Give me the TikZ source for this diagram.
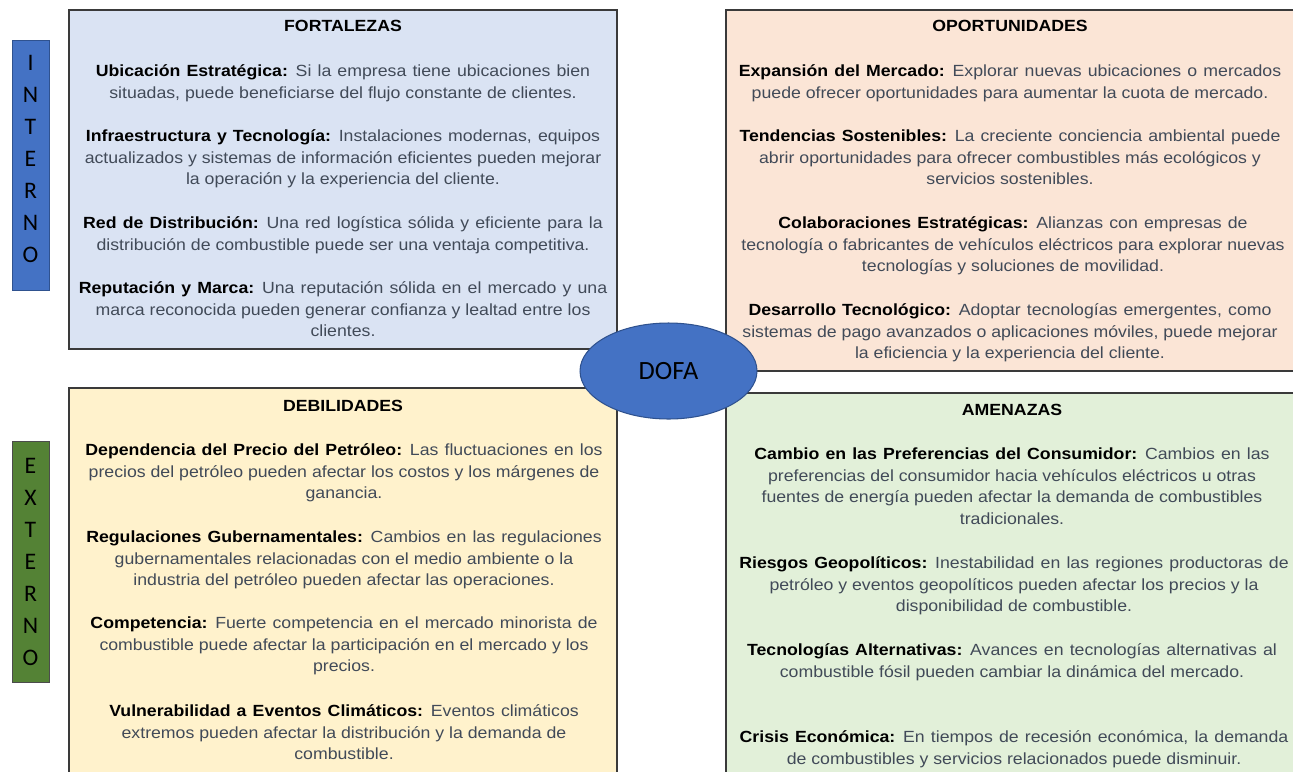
\documentclass[tikz,border=0pt]{standalone}
\usepackage{fontspec}
\setmainfont{Liberation Sans}[FakeStretch=1.095]
\newfontfamily\calibri{Carlito}
\usetikzlibrary{shapes.geometric}

\definecolor{fortcol}{HTML}{DAE3F3}
\definecolor{oporcol}{HTML}{FBE5D6}
\definecolor{debilcol}{HTML}{FFF2CC}
\definecolor{amencol}{HTML}{E2F0D9}
\definecolor{azul}{HTML}{4472C4}
\definecolor{azulosc}{HTML}{2F528F}
\definecolor{verde}{HTML}{548235}
\definecolor{textgris}{HTML}{414A58}
\definecolor{borde}{HTML}{3A3A3A}

\newcommand{\lab}[1]{\textcolor{black}{\textbf{#1}}}
\newcommand{\ini}{\spaceskip=3.5pt\relax\strut}

\begin{document}
\begin{tikzpicture}[x=0.02cm,y=-0.02cm,
    caja/.style={draw=borde,line width=0.6pt},
    parr/.style={anchor=north,align=center,inner sep=0pt,text=textgris,
      font=\fontsize{9.2}{12.3}\selectfont},
    titulo/.style={inner sep=0pt,font=\bfseries\fontsize{9.2}{12.3}\selectfont},
    letras/.style={align=center,inner sep=0pt,font=\calibri\fontsize{13.5}{18.3}\selectfont}]
    \useasboundingbox (0,0) rectangle (1293,771);
    % cuadrantes
    \draw[caja,fill=fortcol] (69,10) rectangle (617,349);
    \draw[caja,fill=oporcol] (726,10) rectangle (1300,371);
    \draw[caja,fill=debilcol] (69,388) rectangle (617,780);
    \draw[caja,fill=amencol] (726,393) rectangle (1300,780);
    % etiquetas laterales
    \draw[draw=azulosc,fill=azul] (12,40) rectangle (49,290);
    \draw[draw=black!70,fill=verde] (12,441) rectangle (49,682);
    \node[letras] (interno) at (30.5,159) {I\\N\\T\\E\\R\\N\\O};
    \node[letras] (externo) at (30.5,562) {E\\X\\T\\E\\R\\N\\O};

    % fortalezas
    \node[titulo] (fort) at (343,26) {FORTALEZAS};
    \node[parr] (f1) at (343,61) {\ini\lab{Ubicación Estratégica:} Si la empresa tiene ubicaciones bien\\
      situadas, puede beneficiarse del flujo constante de clientes.};
    \node[parr] (f2) at (343,126) {\ini\lab{Infraestructura y Tecnología:} Instalaciones modernas, equipos\\
      actualizados y sistemas de información eficientes pueden mejorar\\
      la operación y la experiencia del cliente.};
    \node[parr] (f3) at (343,213) {\ini\lab{Red de Distribución:} Una red logística sólida y eficiente para la\\
      distribución de combustible puede ser una ventaja competitiva.};
    \node[parr] (f4) at (343,278) {\ini\lab{Reputación y Marca:} Una reputación sólida en el mercado y una\\
      marca reconocida pueden generar confianza y lealtad entre los\\
      clientes.};

    % oportunidades
    \node[titulo] (opor) at (1010,26) {OPORTUNIDADES};
    \node[parr] (o1) at (1010,61) {\ini\lab{Expansión del Mercado:} Explorar nuevas ubicaciones o mercados\\
      puede ofrecer oportunidades para aumentar la cuota de mercado.};
    \node[parr] (o2) at (1010,126) {\ini\lab{Tendencias Sostenibles:} La creciente conciencia ambiental puede\\
      abrir oportunidades para ofrecer combustibles más ecológicos y\\
      servicios sostenibles.};
    \node[parr] (o3) at (1013,213) {\ini\lab{Colaboraciones Estratégicas:} Alianzas con empresas de\\
      tecnología o fabricantes de vehículos eléctricos para explorar nuevas\\
      tecnologías y soluciones de movilidad.};
    \node[parr] (o4) at (1010,300) {\ini\lab{Desarrollo Tecnológico:} Adoptar tecnologías emergentes, como\\
      sistemas de pago avanzados o aplicaciones móviles, puede mejorar\\
      la eficiencia y la experiencia del cliente.};

    % debilidades
    \node[titulo] (debil) at (343,406) {DEBILIDADES};
    \node[parr] (d1) at (344,440) {\ini\lab{Dependencia del Precio del Petróleo:} Las fluctuaciones en los\\
      precios del petróleo pueden afectar los costos y los márgenes de\\
      ganancia.};
    \node[parr] (d2) at (344,527) {\ini\lab{Regulaciones Gubernamentales:} Cambios en las regulaciones\\
      gubernamentales relacionadas con el medio ambiente o la\\
      industria del petróleo pueden afectar las operaciones.};
    \node[parr] (d3) at (344,613) {\ini\lab{Competencia:} Fuerte competencia en el mercado minorista de\\
      combustible puede afectar la participación en el mercado y los\\
      precios.};
    \node[parr] (d4) at (344,701) {\ini\lab{Vulnerabilidad a Eventos Climáticos:} Eventos climáticos\\
      extremos pueden afectar la distribución y la demanda de\\
      combustible.};

    % amenazas
    \node[titulo] (amen) at (1012,410) {AMENAZAS};
    \node[parr] (a1) at (1012,444) {\ini\lab{Cambio en las Preferencias del Consumidor:} Cambios en las\\
      preferencias del consumidor hacia vehículos eléctricos u otras\\
      fuentes de energía pueden afectar la demanda de combustibles\\
      tradicionales.};
    \node[parr] (a2) at (1014,553) {\ini\lab{Riesgos Geopolíticos:} Inestabilidad en las regiones productoras de\\
      petróleo y eventos geopolíticos pueden afectar los precios y la\\
      disponibilidad de combustible.};
    \node[parr] (a3) at (1012,640) {\ini\lab{Tecnologías Alternativas:} Avances en tecnologías alternativas al\\
      combustible fósil pueden cambiar la dinámica del mercado.};
    \node[parr] (a4) at (1014,727) {\ini\lab{Crisis Económica:} En tiempos de recesión económica, la demanda\\
      de combustibles y servicios relacionados puede disminuir.};

    % centro
    \node[ellipse,draw=azulosc,fill=azul,line width=0.6pt,minimum width=3.54cm,minimum height=1.92cm,
      font=\calibri\fontsize{15}{18}\selectfont] (dofa) at (668.5,371) {DOFA};
\end{tikzpicture}
\end{document}
